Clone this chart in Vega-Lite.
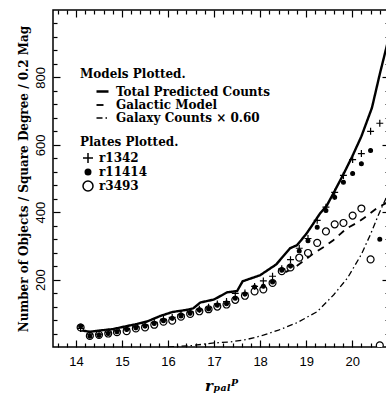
{
  "$schema": "https://vega.github.io/schema/vega-lite/v6.json",
  "width": 336,
  "height": 337,
  "autosize": "none",
  "padding": {"left": 53, "top": 10, "right": -3, "bottom": 50},
  "background": "white",
  "config": {
    "view": {"stroke": "black", "strokeWidth": 1.5},
    "axis": {"labelFont": "Liberation Sans", "labelFontSize": 13, "labelColor": "black", "tickColor": "black", "tickWidth": 1.2, "domain": false, "grid": false, "titleColor": "black"},
    "legend": {"titleFont": "DejaVu Serif", "titleFontWeight": "bold", "titleFontSize": 12, "titleColor": "black", "labelFont": "DejaVu Serif", "labelFontWeight": "bold", "labelFontSize": 12, "labelColor": "black", "padding": 0, "rowPadding": 0, "titlePadding": 3}
  },
  "datasets": {
    "lines": [
      {"model": "Total Predicted Counts", "mag": 14.09, "n": 50},
      {"model": "Total Predicted Counts", "mag": 14.3, "n": 45},
      {"model": "Total Predicted Counts", "mag": 14.52, "n": 49},
      {"model": "Total Predicted Counts", "mag": 14.8, "n": 53},
      {"model": "Total Predicted Counts", "mag": 15.1, "n": 62},
      {"model": "Total Predicted Counts", "mag": 15.32, "n": 68},
      {"model": "Total Predicted Counts", "mag": 15.55, "n": 76},
      {"model": "Total Predicted Counts", "mag": 15.83, "n": 92},
      {"model": "Total Predicted Counts", "mag": 16.1, "n": 104},
      {"model": "Total Predicted Counts", "mag": 16.4, "n": 110},
      {"model": "Total Predicted Counts", "mag": 16.55, "n": 115},
      {"model": "Total Predicted Counts", "mag": 16.7, "n": 132},
      {"model": "Total Predicted Counts", "mag": 17.0, "n": 141},
      {"model": "Total Predicted Counts", "mag": 17.28, "n": 162},
      {"model": "Total Predicted Counts", "mag": 17.5, "n": 166},
      {"model": "Total Predicted Counts", "mag": 17.62, "n": 195},
      {"model": "Total Predicted Counts", "mag": 18.0, "n": 213},
      {"model": "Total Predicted Counts", "mag": 18.35, "n": 245},
      {"model": "Total Predicted Counts", "mag": 18.65, "n": 293},
      {"model": "Total Predicted Counts", "mag": 18.8, "n": 302},
      {"model": "Total Predicted Counts", "mag": 19.0, "n": 335},
      {"model": "Total Predicted Counts", "mag": 19.15, "n": 365},
      {"model": "Total Predicted Counts", "mag": 19.3, "n": 396},
      {"model": "Total Predicted Counts", "mag": 19.45, "n": 420},
      {"model": "Total Predicted Counts", "mag": 19.6, "n": 458},
      {"model": "Total Predicted Counts", "mag": 19.8, "n": 510},
      {"model": "Total Predicted Counts", "mag": 20.0, "n": 565},
      {"model": "Total Predicted Counts", "mag": 20.2, "n": 625},
      {"model": "Total Predicted Counts", "mag": 20.43, "n": 710},
      {"model": "Total Predicted Counts", "mag": 20.6, "n": 810},
      {"model": "Total Predicted Counts", "mag": 20.74, "n": 887},
      {"model": "Total Predicted Counts", "mag": 20.8, "n": 920},
      {"model": "Galactic Model", "mag": 18.55, "n": 222},
      {"model": "Galactic Model", "mag": 18.72, "n": 233},
      {"model": "Galactic Model", "mag": 18.95, "n": 256},
      {"model": "Galactic Model", "mag": 19.16, "n": 278},
      {"model": "Galactic Model", "mag": 19.4, "n": 298},
      {"model": "Galactic Model", "mag": 19.59, "n": 317},
      {"model": "Galactic Model", "mag": 19.88, "n": 352},
      {"model": "Galactic Model", "mag": 20.1, "n": 368},
      {"model": "Galactic Model", "mag": 20.25, "n": 382},
      {"model": "Galactic Model", "mag": 20.54, "n": 412},
      {"model": "Galactic Model", "mag": 20.8, "n": 432},
      {"model": "Galaxy Counts × 0.60", "mag": 16.0, "n": 0},
      {"model": "Galaxy Counts × 0.60", "mag": 16.5, "n": 4},
      {"model": "Galaxy Counts × 0.60", "mag": 17.0, "n": 12},
      {"model": "Galaxy Counts × 0.60", "mag": 17.35, "n": 15},
      {"model": "Galaxy Counts × 0.60", "mag": 17.7, "n": 22},
      {"model": "Galaxy Counts × 0.60", "mag": 18.07, "n": 35},
      {"model": "Galaxy Counts × 0.60", "mag": 18.4, "n": 50},
      {"model": "Galaxy Counts × 0.60", "mag": 18.8, "n": 72},
      {"model": "Galaxy Counts × 0.60", "mag": 19.24, "n": 105},
      {"model": "Galaxy Counts × 0.60", "mag": 19.6, "n": 155},
      {"model": "Galaxy Counts × 0.60", "mag": 19.9, "n": 205},
      {"model": "Galaxy Counts × 0.60", "mag": 20.2, "n": 275},
      {"model": "Galaxy Counts × 0.60", "mag": 20.4, "n": 335},
      {"model": "Galaxy Counts × 0.60", "mag": 20.57, "n": 392},
      {"model": "Galaxy Counts × 0.60", "mag": 20.72, "n": 437},
      {"model": "Galaxy Counts × 0.60", "mag": 20.8, "n": 465}
    ],
    "points": [
      {"plate": "r3493", "mag": 14.10, "n": 58}, {"plate": "r3493", "mag": 14.30, "n": 33}, {"plate": "r3493", "mag": 14.50, "n": 36}, {"plate": "r3493", "mag": 14.70, "n": 40}, {"plate": "r3493", "mag": 14.89, "n": 44}, {"plate": "r3493", "mag": 15.10, "n": 47}, {"plate": "r3493", "mag": 15.30, "n": 55}, {"plate": "r3493", "mag": 15.50, "n": 58}, {"plate": "r3493", "mag": 15.70, "n": 66}, {"plate": "r3493", "mag": 15.90, "n": 75}, {"plate": "r3493", "mag": 16.09, "n": 78}, {"plate": "r3493", "mag": 16.28, "n": 90}, {"plate": "r3493", "mag": 16.48, "n": 98}, {"plate": "r3493", "mag": 16.68, "n": 106}, {"plate": "r3493", "mag": 16.88, "n": 112}, {"plate": "r3493", "mag": 17.07, "n": 120}, {"plate": "r3493", "mag": 17.27, "n": 126}, {"plate": "r3493", "mag": 17.46, "n": 140}, {"plate": "r3493", "mag": 17.67, "n": 152}, {"plate": "r3493", "mag": 17.88, "n": 165}, {"plate": "r3493", "mag": 18.07, "n": 171}, {"plate": "r3493", "mag": 18.27, "n": 190}, {"plate": "r3493", "mag": 18.47, "n": 225}, {"plate": "r3493", "mag": 18.66, "n": 236}, {"plate": "r3493", "mag": 18.85, "n": 265}, {"plate": "r3493", "mag": 19.04, "n": 279}, {"plate": "r3493", "mag": 19.24, "n": 309}, {"plate": "r3493", "mag": 19.43, "n": 343}, {"plate": "r3493", "mag": 19.62, "n": 364}, {"plate": "r3493", "mag": 19.81, "n": 368}, {"plate": "r3493", "mag": 20.01, "n": 390}, {"plate": "r3493", "mag": 20.20, "n": 411}, {"plate": "r3493", "mag": 20.40, "n": 260}, {"plate": "r3493", "mag": 20.60, "n": 5},
      {"plate": "r1342", "mag": 14.10, "n": 55}, {"plate": "r1342", "mag": 14.30, "n": 38}, {"plate": "r1342", "mag": 14.50, "n": 38}, {"plate": "r1342", "mag": 14.70, "n": 44}, {"plate": "r1342", "mag": 14.89, "n": 48}, {"plate": "r1342", "mag": 15.10, "n": 55}, {"plate": "r1342", "mag": 15.30, "n": 60}, {"plate": "r1342", "mag": 15.50, "n": 65}, {"plate": "r1342", "mag": 15.70, "n": 73}, {"plate": "r1342", "mag": 15.90, "n": 82}, {"plate": "r1342", "mag": 16.09, "n": 88}, {"plate": "r1342", "mag": 16.28, "n": 96}, {"plate": "r1342", "mag": 16.48, "n": 104}, {"plate": "r1342", "mag": 16.68, "n": 112}, {"plate": "r1342", "mag": 16.88, "n": 118}, {"plate": "r1342", "mag": 17.07, "n": 128}, {"plate": "r1342", "mag": 17.27, "n": 135}, {"plate": "r1342", "mag": 17.46, "n": 159}, {"plate": "r1342", "mag": 17.67, "n": 160}, {"plate": "r1342", "mag": 17.88, "n": 180}, {"plate": "r1342", "mag": 18.07, "n": 196}, {"plate": "r1342", "mag": 18.27, "n": 210}, {"plate": "r1342", "mag": 18.47, "n": 232}, {"plate": "r1342", "mag": 18.66, "n": 259}, {"plate": "r1342", "mag": 18.85, "n": 293}, {"plate": "r1342", "mag": 19.04, "n": 322}, {"plate": "r1342", "mag": 19.24, "n": 376}, {"plate": "r1342", "mag": 19.43, "n": 415}, {"plate": "r1342", "mag": 19.62, "n": 459}, {"plate": "r1342", "mag": 19.81, "n": 509}, {"plate": "r1342", "mag": 20.01, "n": 556}, {"plate": "r1342", "mag": 20.20, "n": 574}, {"plate": "r1342", "mag": 20.40, "n": 640}, {"plate": "r1342", "mag": 20.60, "n": 664},
      {"plate": "r11414", "mag": 14.10, "n": 62}, {"plate": "r11414", "mag": 14.30, "n": 32}, {"plate": "r11414", "mag": 14.50, "n": 35}, {"plate": "r11414", "mag": 14.70, "n": 40}, {"plate": "r11414", "mag": 14.89, "n": 45}, {"plate": "r11414", "mag": 15.10, "n": 52}, {"plate": "r11414", "mag": 15.30, "n": 57}, {"plate": "r11414", "mag": 15.50, "n": 62}, {"plate": "r11414", "mag": 15.70, "n": 70}, {"plate": "r11414", "mag": 15.90, "n": 78}, {"plate": "r11414", "mag": 16.09, "n": 85}, {"plate": "r11414", "mag": 16.28, "n": 92}, {"plate": "r11414", "mag": 16.48, "n": 100}, {"plate": "r11414", "mag": 16.68, "n": 110}, {"plate": "r11414", "mag": 16.88, "n": 113}, {"plate": "r11414", "mag": 17.07, "n": 124}, {"plate": "r11414", "mag": 17.27, "n": 128}, {"plate": "r11414", "mag": 17.46, "n": 145}, {"plate": "r11414", "mag": 17.67, "n": 157}, {"plate": "r11414", "mag": 17.88, "n": 178}, {"plate": "r11414", "mag": 18.07, "n": 180}, {"plate": "r11414", "mag": 18.27, "n": 193}, {"plate": "r11414", "mag": 18.47, "n": 228}, {"plate": "r11414", "mag": 18.66, "n": 240}, {"plate": "r11414", "mag": 18.85, "n": 285}, {"plate": "r11414", "mag": 19.04, "n": 315}, {"plate": "r11414", "mag": 19.24, "n": 355}, {"plate": "r11414", "mag": 19.43, "n": 405}, {"plate": "r11414", "mag": 19.62, "n": 444}, {"plate": "r11414", "mag": 19.81, "n": 489}, {"plate": "r11414", "mag": 20.01, "n": 515}, {"plate": "r11414", "mag": 20.20, "n": 544}, {"plate": "r11414", "mag": 20.40, "n": 583}, {"plate": "r11414", "mag": 20.60, "n": 320}
    ]
  },
  "resolve": {"axis": {"x": "independent", "y": "independent"}},
  "layer": [
    {
      "data": {"name": "lines"},
      "mark": {"type": "line", "color": "black", "clip": true},
      "encoding": {
        "x": {"field": "mag", "type": "quantitative", "scale": {"domain": [13.5, 20.8], "nice": false, "zero": false},
          "axis": {"orient": "bottom", "values": [13.6,13.8,14,14.2,14.4,14.6,14.8,15,15.2,15.4,15.6,15.8,16,16.2,16.4,16.6,16.8,17,17.2,17.4,17.6,17.8,18,18.2,18.4,18.6,18.8,19,19.2,19.4,19.6,19.8,20,20.2,20.4,20.6],
            "labelExpr": "datum.value % 1 === 0 ? format(datum.value, 'd') : ''",
            "tickSize": {"condition": {"test": "datum.value % 1 === 0", "value": -7}, "value": -4},
            "labelPadding": 15, "labelFlush": false, "labelOverlap": false,
            "title": "rₚₐₗᴾ", "titleFont": "DejaVu Serif", "titleFontStyle": "italic", "titleFontWeight": "bold", "titleFontSize": 15, "titlePadding": 7}},
        "y": {"field": "n", "type": "quantitative", "scale": {"domain": [0, 1000], "nice": false},
          "axis": {"orient": "left", "values": [40,80,120,160,200,240,280,320,360,400,440,480,520,560,600,640,680,720,760,800,840,880,920,960],
            "labelExpr": "datum.value % 200 === 0 ? datum.label : ''",
            "tickSize": {"condition": {"test": "datum.value % 200 === 0", "value": -7}, "value": -4},
            "labelAngle": 270, "labelAlign": "center", "labelBaseline": "bottom", "labelPadding": 13, "labelOverlap": false,
            "title": "Number of Objects / Square Degree / 0.2 Mag", "titleFont": "DejaVu Serif", "titleFontWeight": "bold", "titleFontSize": 12, "titlePadding": 1}},
        "strokeDash": {"field": "model", "type": "nominal",
          "scale": {"domain": ["Total Predicted Counts", "Galactic Model", "Galaxy Counts × 0.60"], "range": [[1, 0], [7, 6], [6, 3, 1.5, 3]]},
          "legend": {"title": "Models Plotted.", "orient": "none", "legendX": 27, "legendY": 59, "symbolType": "stroke", "symbolSize": 144, "symbolOffset": 15, "labelOffset": 6, "symbolStrokeColor": "black"}},
        "strokeWidth": {"field": "model", "type": "nominal",
          "scale": {"domain": ["Total Predicted Counts", "Galactic Model", "Galaxy Counts × 0.60"], "range": [2.4, 1.3, 1.2]},
          "legend": {"title": "Models Plotted.", "orient": "none", "legendX": 27, "legendY": 59, "symbolType": "stroke", "symbolSize": 144, "symbolOffset": 15, "labelOffset": 6, "symbolStrokeColor": "black"}}
      }
    },
    {
      "data": {"name": "points"},
      "mark": {"type": "point", "filled": true, "opacity": 1, "stroke": "black", "strokeWidth": 1.2, "size": 48, "clip": true},
      "encoding": {
        "x": {"field": "mag", "type": "quantitative",
          "axis": {"orient": "top", "values": [13.6,13.8,14,14.2,14.4,14.6,14.8,15,15.2,15.4,15.6,15.8,16,16.2,16.4,16.6,16.8,17,17.2,17.4,17.6,17.8,18,18.2,18.4,18.6,18.8,19,19.2,19.4,19.6,19.8,20,20.2,20.4,20.6],
            "labels": false, "title": null,
            "tickSize": {"condition": {"test": "datum.value % 1 === 0", "value": -7}, "value": -4}}},
        "y": {"field": "n", "type": "quantitative",
          "axis": {"orient": "right", "values": [40,80,120,160,200,240,280,320,360,400,440,480,520,560,600,640,680,720,760,800,840,880,920,960],
            "labels": false, "title": null,
            "tickSize": {"condition": {"test": "datum.value % 200 === 0", "value": -7}, "value": -4}}},
        "shape": {"field": "plate", "type": "nominal",
          "scale": {"domain": ["r1342", "r11414", "r3493"], "range": ["M-1,0H1M0,-1V1", "M-0.55,0A0.55,0.55 0 1,0 0.55,0A0.55,0.55 0 1,0 -0.55,0Z", "circle"]},
          "legend": {"title": "Plates Plotted.", "orient": "none", "legendX": 27, "legendY": 127, "symbolOffset": 2, "labelOffset": 5, "symbolOpacity": 1}},
        "fill": {"field": "plate", "type": "nominal",
          "scale": {"domain": ["r1342", "r11414", "r3493"], "range": ["black", "black", "white"]},
          "legend": {"title": "Plates Plotted.", "orient": "none", "legendX": 27, "legendY": 127, "symbolOffset": 2, "labelOffset": 5, "symbolOpacity": 1}}
      }
    }
  ]
}
